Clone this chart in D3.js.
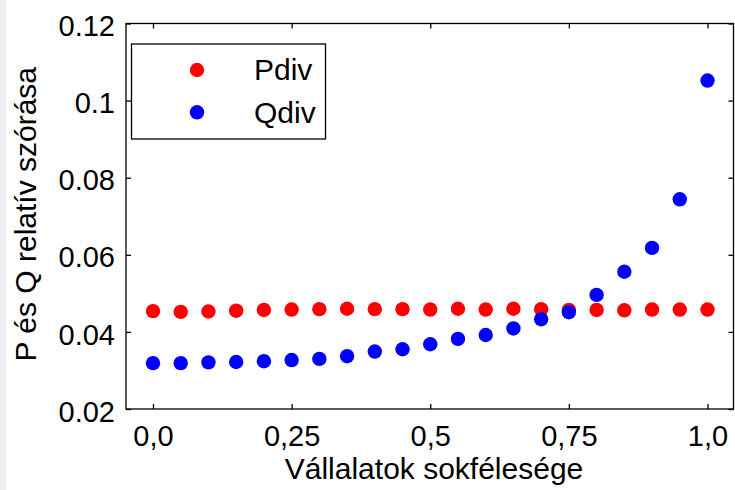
<!DOCTYPE html>
<html>
<head>
<meta charset="utf-8">
<script src="https://cdn.jsdelivr.net/npm/d3@7/dist/d3.min.js"></script>
<style>
  html, body { margin: 0; padding: 0; background: #ffffff; }
  svg { display: block; }
  text { font-family: "Liberation Sans", Arial, Helvetica, sans-serif; fill: #000; }
</style>
</head>
<body>
<svg id="chart" width="735" height="490"></svg>
<script>
// Diversity of firms (x) and relative spread of P and Q (y)
const xValues = [0, 0.05, 0.1, 0.15, 0.2, 0.25, 0.3, 0.35, 0.4, 0.45, 0.5,
                 0.55, 0.6, 0.65, 0.7, 0.75, 0.8, 0.85, 0.9, 0.95, 1.0];
const pdiv = [0.0454, 0.0452, 0.0453, 0.0455, 0.0457, 0.0458, 0.0459, 0.0460, 0.0459, 0.0459, 0.0458,
              0.0460, 0.0458, 0.0460, 0.0459, 0.0457, 0.0457, 0.0456, 0.0458, 0.0458, 0.0458];
const qdiv = [0.0319, 0.0319, 0.0321, 0.0322, 0.0324, 0.0327, 0.0330, 0.0337, 0.0349, 0.0355, 0.0368,
              0.0382, 0.0392, 0.0409, 0.0433, 0.0451, 0.0496, 0.0556, 0.0618, 0.0744, 0.1052];
const seriesNames = ["Pdiv", "Qdiv"];
const seriesColors = ["#ff0000", "#0000ff"];
const xTickValues = [0, 0.25, 0.5, 0.75, 1.0];
const xTickLabels = ["0,0", "0,25", "0,5", "0,75", "1,0"];
const yTickValues = [0.02, 0.04, 0.06, 0.08, 0.1, 0.12];
const yTickLabels = ["0.02", "0.04", "0.06", "0.08", "0.1", "0.12"];

const svg = d3.select("#chart");
const W = 735, H = 490;

// light margin strip on the left edge
svg.append("rect").attr("x", 0).attr("y", 0).attr("width", 6).attr("height", H).attr("fill", "#eef2f7");

const frame = { left: 126, right: 733.5, top: 23.5, bottom: 409 };
const x = d3.scaleLinear().domain([0, 1]).range([153, 707.5]);
const y = d3.scaleLinear().domain([0.02, 0.12]).range([frame.bottom, frame.top]);

const tickLen = 5;
const fsTick = 29;
const fsTitle = 30;

// frame
svg.append("rect")
  .attr("x", frame.left).attr("y", frame.top)
  .attr("width", frame.right - frame.left).attr("height", frame.bottom - frame.top)
  .attr("fill", "none").attr("stroke", "#000").attr("stroke-width", 1.3);

// bottom axis: inward ticks + labels
const xBottom = svg.append("g").attr("transform", `translate(0,${frame.bottom})`)
  .call(d3.axisBottom(x).tickValues(xTickValues).tickSizeInner(-tickLen).tickSizeOuter(0)
        .tickFormat((d, i) => xTickLabels[i]));
xBottom.select(".domain").remove();
xBottom.selectAll("line").attr("stroke", "#000").attr("stroke-width", 1.3);
xBottom.selectAll("text").attr("font-size", fsTick).attr("font-family", "Liberation Sans, Arial, sans-serif")
  .attr("dy", null).attr("y", 37);

// top axis: ticks only
const xTop = svg.append("g").attr("transform", `translate(0,${frame.top})`)
  .call(d3.axisTop(x).tickValues(xTickValues).tickSizeInner(-tickLen).tickSizeOuter(0).tickFormat(""));
xTop.select(".domain").remove();
xTop.selectAll("line").attr("stroke", "#000").attr("stroke-width", 1.3);

// left axis: inward ticks + labels
const yLeft = svg.append("g").attr("transform", `translate(${frame.left},0)`)
  .call(d3.axisLeft(y).tickValues(yTickValues).tickSizeInner(-tickLen).tickSizeOuter(0)
        .tickFormat((d, i) => yTickLabels[i]));
yLeft.select(".domain").remove();
yLeft.selectAll("line").attr("stroke", "#000").attr("stroke-width", 1.3);
yLeft.selectAll("text").attr("font-size", fsTick).attr("font-family", "Liberation Sans, Arial, sans-serif")
  .attr("x", -11).attr("dy", "0.42em");

// right axis: ticks only
const yRight = svg.append("g").attr("transform", `translate(${frame.right},0)`)
  .call(d3.axisRight(y).tickValues(yTickValues).tickSizeInner(-tickLen).tickSizeOuter(0).tickFormat(""));
yRight.select(".domain").remove();
yRight.selectAll("line").attr("stroke", "#000").attr("stroke-width", 1.3);

// axis titles
svg.append("text")
  .attr("x", 434).attr("y", 479)
  .attr("text-anchor", "middle").attr("font-size", fsTitle)
  .text("Vállalatok sokfélesége");
svg.append("text")
  .attr("transform", `translate(36,${(frame.top + frame.bottom) / 2 - 2}) rotate(-90)`)
  .attr("text-anchor", "middle").attr("font-size", fsTitle)
  .text("P és Q relatív szórása");

// data points
const series = [pdiv, qdiv];
series.forEach((vals, s) => {
  svg.append("g").selectAll("circle")
    .data(vals)
    .join("circle")
    .attr("cx", (d, i) => x(xValues[i]))
    .attr("cy", d => y(d))
    .attr("r", 7.2)
    .attr("fill", seriesColors[s]);
});

// legend
const lg = svg.append("g");
lg.append("rect")
  .attr("x", 131.5).attr("y", 44).attr("width", 194).attr("height", 95)
  .attr("fill", "#fff").attr("stroke", "#000").attr("stroke-width", 1.3);
seriesNames.forEach((name, i) => {
  const cy = 70 + i * 42.3;
  lg.append("circle").attr("cx", 197).attr("cy", cy).attr("r", 7.2).attr("fill", seriesColors[i]);
  lg.append("text").attr("x", 254).attr("y", cy + 10.3)
    .attr("font-size", fsTitle).text(name);
});
</script>
</body>
</html>
